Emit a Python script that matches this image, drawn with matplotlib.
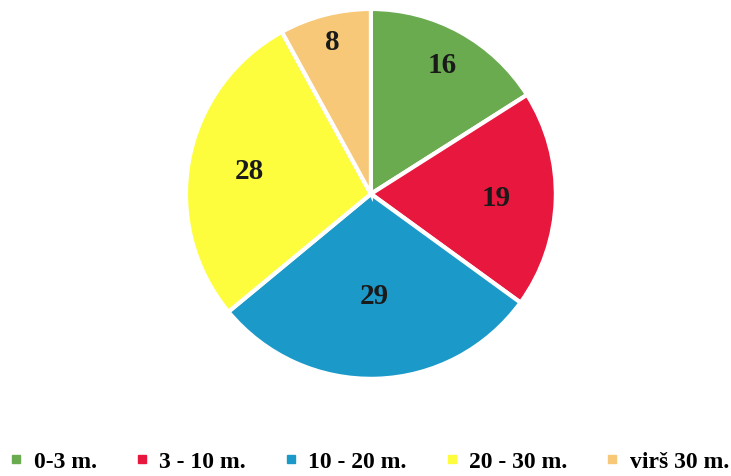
import numpy as np
import matplotlib

matplotlib.use("Agg")
import matplotlib.pyplot as plt
from matplotlib.lines import Line2D

# data
categories = ["0-3 m.", "3 - 10 m.", "10 - 20 m.", "20 - 30 m.", "virš 30 m."]
values = [16, 19, 29, 28, 8]
colors = ["#6aab50", "#e8173d", "#1b99c9", "#fdfd3e", "#f6c878"]
label_radius = [0.80, 0.68, 0.55, 0.67, 0.85]

plt.rcParams["font.family"] = ["Liberation Serif", "DejaVu Serif"]

fig = plt.figure(figsize=(7.31, 4.77), dpi=100)
ax = fig.add_axes([0.2544, 0.2034, 0.506, 0.776])

wedges, _ = ax.pie(values, colors=colors, startangle=90, counterclock=False,
                   wedgeprops=dict(edgecolor="white", linewidth=3))
ax.set_xlim(-1, 1)
ax.set_ylim(-1, 1)
ax.set_aspect("equal")

for w, v, r in zip(wedges, values, label_radius):
    ang = np.deg2rad((w.theta1 + w.theta2) / 2)
    ax.text(r * np.cos(ang), r * np.sin(ang), str(v), ha="center", va="center",
            fontsize=21, fontweight="bold", color="#1a1a1a")

handles = [Line2D([], [], marker="s", linestyle="", markersize=6,
                  markerfacecolor=c, markeredgecolor=c) for c in colors]
fig.legend(handles, categories, loc="center", bbox_to_anchor=(0.505, 0.03),
           ncol=5, frameon=False, handlelength=0.6, handletextpad=0.45,
           columnspacing=1.6, prop=dict(size=17, weight="bold"))

fig.savefig("out.png", dpi=100)
